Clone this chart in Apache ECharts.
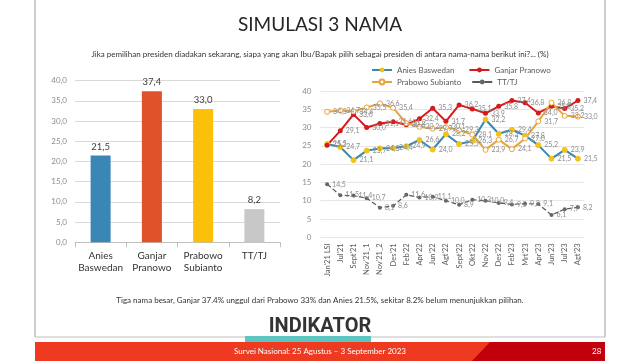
<!DOCTYPE html>
<html><head><meta charset="utf-8">
<script src="https://cdn.jsdelivr.net/npm/echarts@6/dist/echarts.min.js"></script>
<style>html,body{margin:0;padding:0;background:#fff}#c{width:640px;height:361px}</style>
</head><body><div id="c"></div>
<script>
const barCats = ['Anies\nBaswedan','Ganjar\nPranowo','Prabowo\nSubianto','TT/TJ'];
const barVals = [21.5, 37.4, 33.0, 8.2];
const barColors = ['#3A87B5','#E0522A','#FBC00A','#C8C8C8'];
const months = ["Jan'21 LSI","Jul'21","Sept'21","Nov'21_1","Nov'21_2","Des'21","Feb'22","Apr'22","Jun'22","Agt'22","Sept'22","Okt'22","Nov'22","Des'22","Feb'23","Mrt'23","Apr'23","Jun'23","Jul'23","Agt'23"];
const anies   = [25.5,24.7,21.1,23.7,24.3,24.4,24.9,26.6,24.0,28.2,25.5,26.3,32.2,28.3,29.4,27.8,25.2,21.5,23.9,21.5];
const ganjar  = [25.2,29.1,33.6,30.0,31.1,31.6,30.8,32.4,35.3,31.7,36.2,35.1,33.9,35.8,37.4,36.8,34.0,35.8,35.2,37.4];
const prabowo = [34.3,34.7,34.4,35.5,36.6,35.4,31.2,30.2,29.7,30.1,29.3,28.1,23.9,26.7,24.1,27.0,31.7,36.8,33.2,33.0];
const tttj    = [14.5,11.5,11.4,10.7,8.1,8.6,11.6,10.9,11.1,10.0,8.9,10.3,10.0,9.4,9.0,9.2,9.1,6.1,7.7,8.2];

const FF = 'Lato, "Noto Sans", sans-serif';
const comma = v => Number(v).toFixed(1).replace('.', ',');
const lbl = {show:true, position:'right', fontSize:7, color:'#8c8c8c', fontFamily:FF, distance:3,
             formatter: p => comma(p.value)};

const chart = echarts.init(document.getElementById('c'), null, {renderer:'canvas'});
chart.setOption({
  animation:false,
  backgroundColor:'#fff',
  textStyle:{fontFamily:FF},
  title:[
    {text:'SIMULASI 3 NAMA', left:'center', top:10,
     textStyle:{fontSize:19, fontWeight:'normal', color:'#262626', fontFamily:FF}},
    {text:'Jika pemilihan presiden diadakan sekarang, siapa yang akan Ibu/Bapak pilih sebagai presiden di antara nama-nama berikut ini?... (%)',
     left:'center', top:45, textStyle:{fontSize:8, fontWeight:'normal', color:'#333', fontFamily:FF}}
  ],
  legend:[
    {data:['Anies Baswedan','Ganjar Pranowo'], left:366, top:61, itemWidth:20, itemHeight:6, itemGap:14,
     textStyle:{fontSize:8, color:'#595959', fontFamily:FF}},
    {data:['Prabowo Subianto','TT/TJ'], left:366, top:73, itemWidth:20, itemHeight:6, itemGap:10,
     textStyle:{fontSize:8, color:'#595959', fontFamily:FF}}
  ],
  grid:[
    {left:75, width:205, top:80.7, height:161.6},
    {left:320.5, width:264, top:91, height:146.3}
  ],
  xAxis:[
    {type:'category', gridIndex:0, data:barCats,
     axisLine:{lineStyle:{color:'#bfbfbf'}}, axisTick:{show:true, length:5, lineStyle:{color:'#bfbfbf'}},
     axisLabel:{fontSize:10, color:'#333', lineHeight:12, margin:7, interval:0, fontFamily:FF}},
    {type:'category', gridIndex:1, data:months,
     axisLine:{show:false}, axisTick:{show:false},
     axisLabel:{rotate:90, fontSize:7.5, color:'#595959', margin:6, interval:0, fontFamily:FF}}
  ],
  yAxis:[
    {type:'value', gridIndex:0, min:0, max:40, interval:5,
     axisLine:{show:false}, axisTick:{show:false},
     axisLabel:{fontSize:8, color:'#8c8c8c', margin:8, formatter:v=>comma(v), fontFamily:FF},
     splitLine:{lineStyle:{color:'#d9d9d9'}}},
    {type:'value', gridIndex:1, min:0, max:40, interval:5,
     axisLine:{show:false}, axisTick:{show:false},
     axisLabel:{fontSize:8, color:'#8c8c8c', margin:9, fontFamily:FF},
     splitLine:{lineStyle:{color:'#e6e6e6'}}}
  ],
  series:[
    {type:'bar', xAxisIndex:0, yAxisIndex:0, barWidth:20,
     data: barVals.map((v,i)=>({value:v, itemStyle:{color:barColors[i]}})),
     label:{show:true, position:'top', fontSize:9.5, color:'#404040', distance:4, formatter:p=>comma(p.value), fontFamily:FF}},
    {name:'Anies Baswedan', type:'line', xAxisIndex:1, yAxisIndex:1, data:anies,
     symbol:'circle', symbolSize:5, lineStyle:{color:'#3A87B5', width:2},
     itemStyle:{color:'#F2C318', borderColor:'#F2C318'}, label:lbl},
    {name:'Ganjar Pranowo', type:'line', xAxisIndex:1, yAxisIndex:1, data:ganjar,
     symbol:'circle', symbolSize:5, lineStyle:{color:'#D7191C', width:2},
     itemStyle:{color:'#D7191C'}, label:lbl},
    {name:'Prabowo Subianto', type:'line', xAxisIndex:1, yAxisIndex:1, data:prabowo,
     symbol:'circle', symbolSize:5, lineStyle:{color:'#E8A33A', width:2},
     itemStyle:{color:'#fff', borderColor:'#E8A33A', borderWidth:1}, label:lbl},
    {name:'TT/TJ', type:'line', xAxisIndex:1, yAxisIndex:1, data:tttj,
     symbol:'circle', symbolSize:4, lineStyle:{color:'#595959', width:1.2, type:'dashed'},
     itemStyle:{color:'#666'}, label:lbl}
  ],
  graphic:[
    {type:'line', shape:{x1:35,y1:0,x2:35,y2:337}, style:{stroke:'#bfbfbf', lineWidth:1.5}, silent:true},
    {type:'line', shape:{x1:605,y1:0,x2:605,y2:337}, style:{stroke:'#bfbfbf', lineWidth:1.5}, silent:true},
    {type:'line', shape:{x1:35,y1:337,x2:605,y2:337}, style:{stroke:'#bfbfbf', lineWidth:1}, silent:true},
    {type:'text', left:'center', top:296, style:{text:'Tiga nama besar, Ganjar 37.4% unggul dari Prabowo 33% dan Anies 21.5%, sekitar 8.2% belum menunjukkan pilihan.', fontSize:8, fill:'#333', fontFamily:FF}},
    {type:'text', left:'center', top:317, style:{text:'INDIKATOR', fontSize:20, fontWeight:'bold', fill:'#333', fontFamily:'Roboto, sans-serif'}},
    {type:'rect', shape:{x:245,y:336,width:126,height:6}, style:{fill:'#5BC6C2'}, silent:true},
    {type:'rect', shape:{x:35,y:342,width:570,height:19}, style:{fill:'#EE3A20'}, silent:true},
    {type:'polygon', shape:{points:[[490,342],[605,342],[605,361],[472,361]]}, style:{fill:'#C2000B'}, silent:true},
    {type:'text', left:'center', top:347, style:{text:'Survei Nasional: 25 Agustus \u2013 3 September 2023', fontSize:8, fill:'#fff', fontFamily:FF}},
    {type:'text', left:592, top:347, style:{text:'28', fontSize:8, fill:'#fff', fontFamily:FF}}
  ]
});
</script></body></html>
